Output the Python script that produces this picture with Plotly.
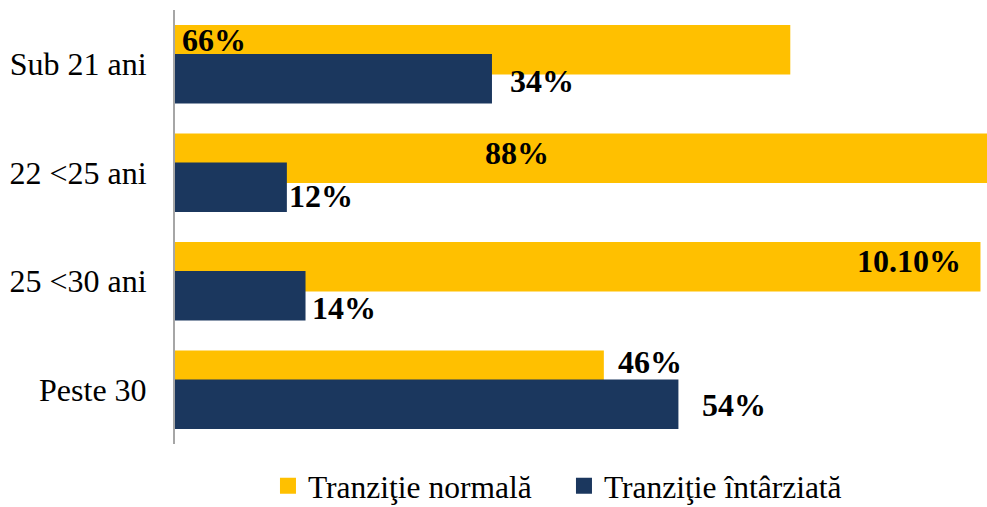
import plotly.graph_objects as go

# Data
age_groups = ['Sub 21 ani', '22 <25 ani', '25 <30 ani', 'Peste 30']
normal = [66, 88, 86.4, 46]
delayed = [34, 12, 14, 54]
normal_labels = ['66%', '88%', '10.10%', '46%']
delayed_labels = ['34%', '12%', '14%', '54%']
series_names = ['Tranziţie normală', 'Tranziţie întârziată']

YELLOW = '#FFC000'
NAVY = '#1B375E'
FONT = 'Liberation Serif'

# Plot geometry: bars start at x=175 px, ~9.32 px per percent, axis runs to the right edge
PLOT_W = 812
XMAX = 87.1
PX = PLOT_W / XMAX
BAR_W = 0.457

# Label placement as in the original (manually moved labels), in px
norm_dx = [-576, -478, -71, 46]
norm_dy = [-9.5, -5.5, -5.5, -13.5]
del_dx = [50, 34, 38, 56]
del_dy = [2, 8.5, 12, 1]

fig = go.Figure()
fig.add_trace(go.Bar(y=age_groups, x=normal, orientation='h', marker_color=YELLOW,
                     marker_line_width=0, width=BAR_W, offset=-0.134 - BAR_W / 2, showlegend=False))
fig.add_trace(go.Bar(y=age_groups, x=delayed, orientation='h', marker_color=NAVY,
                     marker_line_width=0, width=BAR_W, offset=0.134 - BAR_W / 2, showlegend=False))

# legend-only traces (square markers, like the Excel legend)
for name, col in zip(series_names, [YELLOW, NAVY]):
    fig.add_trace(go.Scatter(x=[None], y=[None], mode='markers', name=name,
                             marker=dict(symbol='square', size=16, color=col)))

lbl_font = dict(family=FONT, size=32, color='black', weight='bold')
for cat, v, t, dx, dy in zip(age_groups, normal, normal_labels, norm_dx, norm_dy):
    fig.add_annotation(x=v + dx / PX, y=cat, text=t, showarrow=False, font=lbl_font,
                       xanchor='center', yanchor='middle', yshift=14.5 - dy)
for cat, v, t, dx, dy in zip(age_groups, delayed, delayed_labels, del_dx, del_dy):
    fig.add_annotation(x=v + dx / PX, y=cat, text=t, showarrow=False, font=lbl_font,
                       xanchor='center', yanchor='middle', yshift=-(14.5 + dy))

fig.update_layout(
    width=987, height=507,
    barmode='overlay',
    plot_bgcolor='white', paper_bgcolor='white',
    margin=dict(l=175, r=0, t=10, b=63, autoexpand=False),
    xaxis=dict(range=[0, XMAX], visible=False, fixedrange=True),
    yaxis=dict(autorange='reversed', showline=True, linecolor='#A6A6A6', linewidth=2,
               ticks='', showgrid=False, ticklabelstandoff=20, automargin=False,
               tickfont=dict(family=FONT, size=32, color='black')),
    legend=dict(orientation='h', x=0.1145, xanchor='left', y=-0.096, yanchor='middle',
                font=dict(family=FONT, size=31.5, color='black'), itemsizing='trace',
                entrywidth=251),
    showlegend=True,
)

fig.write_html("out.html", config={'displayModeBar': False},
               post_script="document.body.style.margin='0';")
